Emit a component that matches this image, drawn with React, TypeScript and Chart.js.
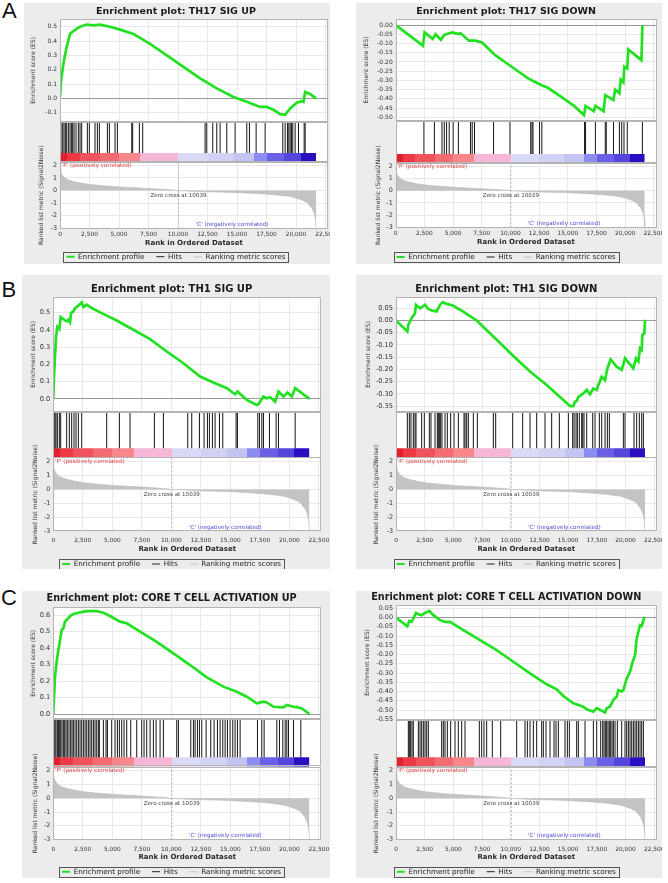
import React, { useEffect, useRef } from 'react';
import { Chart, registerables } from 'chart.js';

Chart.register(...registerables);

const FONT = '"DejaVu Sans", "Liberation Sans", sans-serif';
const GREEN = '#22e022';

// ---------- shared ranked list ----------
const N_GENES = 21700;
const ZERO_CROSS = 10039;
const X_MAX = 22700;
const X_TICKS = [0, 2500, 5000, 7500, 10000, 12500, 15000, 17500, 20000, 22500];

const METRIC_RANK = [0, 60, 145, 286, 428, 710, 1134, 1841, 2547, 3960, 5373, 6786, 8199, 9612, 10039, 11025, 12438, 13851, 15264, 16677, 18090, 19503, 20351, 20916, 21340, 21538, 21650, 21700];
const METRIC_VALUE = [1.8, 1.5, 1.3, 1.1, 0.98, 0.85, 0.72, 0.58, 0.48, 0.36, 0.27, 0.2, 0.13, 0.05, 0, -0.05, -0.1, -0.13, -0.17, -0.24, -0.33, -0.48, -0.7, -0.93, -1.4, -1.8, -2.3, -2.95];
const METRIC_TICKS = [-3, -2, -1, 0, 1, 2];
const METRIC_MIN = -3.03;
const METRIC_MAX = 2.3;

const CB_EDGES = [0, 600, 1700, 3400, 5000, 6800, 10039, 12500, 14700, 16400, 17500, 19000, 20400, 21700];
const CB_COLORS = ['#e41f2d', '#ec3944', '#f0535b', '#f46c72', '#f7878b', '#f6b6d6', '#dadaf7', '#d2d2f5', '#c4c4f3', '#8c8cf0', '#6b5fe7', '#5545dc', '#2a0fc2'];

const P_LABEL = "'P' (positively correlated)";
const C_LABEL = "'C' (negatively correlated)";
const P_LABEL_RANK = 150;
const C_LABEL_RANK = 11500;
const C_LABEL_VALUE = -2.72;

// ---------- A: TH17 SIG UP ----------
const TH17_UP_RANK = [0, 86, 283, 566, 849, 1131, 1696, 2262, 2827, 3392, 4240, 5088, 6218, 7631, 9044, 10457, 11870, 13283, 14696, 15826, 16957, 17522, 18087, 18652, 19076, 19500, 20065, 20489, 20631, 20772, 21196, 21700];
const TH17_UP_ES = [0.01, 0.12, 0.24, 0.36, 0.45, 0.47, 0.5, 0.515, 0.51, 0.515, 0.5, 0.48, 0.45, 0.38, 0.3, 0.22, 0.14, 0.07, 0.01, -0.024, -0.06, -0.06, -0.08, -0.11, -0.115, -0.07, -0.03, -0.02, -0.025, 0.045, 0.03, 0.0];
const TH17_UP_HITS = [86, 227, 340, 453, 566, 707, 849, 962, 1075, 1188, 1357, 1555, 1696, 1838, 2318, 2488, 2968, 3166, 3335, 4014, 4183, 4664, 4862, 6077, 6161, 6727, 7009, 12294, 12435, 12944, 13283, 13566, 14131, 14837, 15826, 16052, 16617, 17381, 18878, 19076, 19274, 19387, 19500, 19613, 19726, 19924, 20207, 20687, 20772];
const TH17_UP_TICKS = [-0.1, 0, 0.1, 0.2, 0.3, 0.4, 0.5];

// ---------- A: TH17 SIG DOWN ----------
const TH17_DN_RANK = [0, 2372, 2516, 3231, 3460, 3947, 4233, 4663, 4949, 5381, 5665, 6381, 6953, 7526, 8671, 10103, 11534, 12107, 12679, 13252, 14397, 15542, 16407, 16544, 17260, 17403, 18119, 18262, 18978, 19121, 19493, 19608, 19837, 19922, 20180, 20266, 21411, 21500];
const TH17_DN_ES = [0, -0.112, -0.04, -0.076, -0.05, -0.08, -0.054, -0.045, -0.04, -0.048, -0.045, -0.085, -0.085, -0.095, -0.163, -0.226, -0.289, -0.307, -0.325, -0.34, -0.388, -0.438, -0.487, -0.438, -0.466, -0.438, -0.466, -0.38, -0.406, -0.35, -0.37, -0.295, -0.31, -0.226, -0.235, -0.132, -0.19, 0.0];
const TH17_DN_HITS = [2458, 3374, 4033, 4233, 4434, 4663, 5006, 5464, 6524, 6667, 6867, 8528, 9959, 11763, 11878, 11963, 12536, 12736, 16458, 16544, 17403, 18262, 18348, 18978, 19493, 19694, 19894, 20180, 21497];
const TH17_DN_TICKS = [-0.5, -0.45, -0.4, -0.35, -0.3, -0.25, -0.2, -0.15, -0.1, -0.05, 0];

// ---------- B: TH1 SIG UP ----------
const TH1_UP_RANK = [0, 60, 145, 230, 343, 512, 625, 993, 1134, 1275, 1417, 1501, 1699, 1841, 2123, 2406, 2547, 2830, 3254, 3960, 4525, 5373, 6786, 8199, 9612, 11025, 12438, 13566, 14699, 15405, 15603, 16394, 17242, 17384, 17807, 18090, 18373, 18797, 19079, 19503, 19842, 20210, 20493, 21700];
const TH1_UP_ES = [0, 0.13, 0.246, 0.36, 0.417, 0.405, 0.475, 0.455, 0.45, 0.46, 0.444, 0.498, 0.508, 0.527, 0.541, 0.56, 0.533, 0.547, 0.527, 0.502, 0.483, 0.455, 0.401, 0.347, 0.275, 0.207, 0.13, 0.095, 0.062, 0.027, 0.043, -0.006, -0.035, -0.03, 0.014, 0.004, 0.01, -0.016, 0.043, 0.014, 0.037, 0.014, 0.062, 0];
const TH1_UP_HITS = [10, 30, 60, 145, 230, 343, 512, 625, 1134, 1360, 1558, 1756, 1925, 2123, 2406, 4525, 5599, 6503, 8566, 9329, 11392, 11732, 12382, 12777, 13060, 13230, 13484, 13710, 14077, 14360, 15490, 15603, 17327, 17468, 17666, 17807, 18316, 18881, 19079, 20493];
const TH1_UP_TICKS = [0, 0.1, 0.2, 0.3, 0.4, 0.5];

// ---------- B: TH1 SIG DOWN ----------
const TH1_DN_RANK = [0, 988, 1075, 1365, 1656, 1743, 2092, 2527, 2818, 3108, 3544, 3835, 4067, 4416, 4997, 5578, 6159, 7030, 8773, 10226, 11678, 13131, 14583, 15164, 15455, 15600, 15745, 15890, 16326, 16617, 16907, 17198, 17488, 17634, 17924, 18215, 18418, 18708, 19231, 19667, 19957, 20684, 20916, 21119, 21265, 21410, 21469, 21643, 21700];
const TH1_DN_ES = [0, -0.045, -0.018, 0.01, 0.03, 0.064, 0.05, 0.064, 0.047, 0.041, 0.037, 0.064, 0.074, 0.068, 0.06, 0.044, 0.027, 0.0, -0.079, -0.145, -0.209, -0.264, -0.325, -0.35, -0.35, -0.332, -0.33, -0.312, -0.298, -0.284, -0.302, -0.278, -0.284, -0.264, -0.23, -0.244, -0.196, -0.159, -0.189, -0.202, -0.155, -0.196, -0.155, -0.168, -0.113, -0.12, -0.059, -0.052, 0.003];
const TH1_DN_HITS = [988, 1162, 1307, 1511, 1656, 1743, 2237, 2469, 2905, 3050, 3399, 3602, 3689, 3776, 3893, 4009, 4270, 4474, 4764, 5055, 5432, 5926, 6013, 6159, 6304, 6740, 7088, 8483, 8686, 10167, 11039, 11678, 12259, 12985, 13566, 14234, 15019, 15396, 15513, 15687, 15803, 15977, 16181, 16268, 16384, 16617, 17140, 17343, 17720, 17924, 18215, 18418, 18592, 19812, 19957, 20742, 20974, 21206, 21410, 21555];
const TH1_DN_TICKS = [-0.35, -0.3, -0.25, -0.2, -0.15, -0.1, -0.05, 0, 0.05];

// ---------- C: CORE T CELL ACTIVATION UP ----------
const CORE_UP_RANK = [0, 60, 145, 286, 428, 569, 710, 851, 993, 1134, 1417, 1699, 2123, 2830, 3677, 4243, 4808, 5656, 6221, 7351, 8764, 10177, 11590, 13003, 14416, 15547, 16394, 17242, 17807, 18090, 18655, 19503, 19786, 20351, 20633, 21057, 21700];
const CORE_UP_ES = [0, 0.105, 0.226, 0.317, 0.388, 0.448, 0.509, 0.519, 0.56, 0.57, 0.594, 0.606, 0.614, 0.624, 0.624, 0.614, 0.594, 0.56, 0.55, 0.499, 0.438, 0.368, 0.297, 0.222, 0.166, 0.135, 0.105, 0.065, 0.075, 0.07, 0.044, 0.04, 0.055, 0.044, 0.042, 0.034, 0];
const CORE_UP_HITS = [60, 145, 230, 343, 428, 512, 625, 738, 851, 964, 1077, 1191, 1332, 1473, 1586, 1699, 1841, 1982, 2123, 2264, 2406, 2547, 2689, 2830, 2971, 3112, 3254, 3395, 3536, 3677, 3819, 3903, 4243, 4469, 4582, 4949, 5232, 5430, 5599, 5797, 5995, 6221, 6560, 7069, 7493, 7690, 7916, 8199, 8482, 8708, 9047, 9329, 10460, 10601, 11647, 11873, 12014, 12212, 12382, 12579, 12947, 13343, 13625, 13908, 14134, 14360, 14558, 14755, 14981, 15207, 15405, 15603, 15829, 17299, 17666, 17864, 18938, 19164, 19447, 19645, 19786, 19927, 20351, 20973];
const CORE_UP_TICKS = [0, 0.1, 0.2, 0.3, 0.4, 0.5, 0.6];

// ---------- C: CORE T CELL ACTIVATION DOWN ----------
const CORE_DN_RANK = [0, 988, 1162, 1365, 1743, 1946, 2237, 2527, 2905, 3254, 3835, 4270, 4706, 5868, 7321, 8773, 10226, 11678, 13131, 14002, 14583, 15455, 16326, 16617, 17198, 17488, 17924, 18215, 18360, 18650, 18941, 19231, 19376, 19667, 19812, 20103, 20393, 20625, 20829, 20974, 21265, 21410, 21650];
const CORE_DN_ES = [0, -0.047, -0.018, -0.023, 0.025, 0.018, 0.013, 0.025, 0.036, 0.013, -0.014, -0.023, -0.023, -0.068, -0.122, -0.176, -0.239, -0.302, -0.361, -0.388, -0.424, -0.464, -0.482, -0.496, -0.509, -0.49, -0.503, -0.514, -0.49, -0.482, -0.445, -0.428, -0.392, -0.4, -0.392, -0.329, -0.293, -0.239, -0.203, -0.113, -0.041, -0.045, 0.004];
const CORE_DN_HITS = [1075, 1162, 1278, 1394, 1511, 1946, 2092, 2237, 2382, 2527, 2673, 2818, 3980, 4125, 4270, 4474, 4764, 5142, 5432, 5723, 6013, 7262, 7466, 7669, 7901, 8395, 9122, 10516, 11242, 11446, 11678, 11969, 12259, 12695, 12840, 13072, 13421, 13770, 13944, 14147, 14728, 14932, 15106, 15745, 15890, 16471, 17198, 17488, 17837, 18011, 18127, 18243, 18360, 18476, 18592, 18708, 18824, 18941, 19086, 19289, 19667, 19957, 20103, 20248, 20393, 20539, 20684, 20829, 20974, 21119, 21265, 21410, 21555];
const CORE_DN_TICKS = [-0.55, -0.5, -0.45, -0.4, -0.35, -0.3, -0.25, -0.2, -0.15, -0.1, -0.05, 0, 0.05];

// ---------- layout (pixel geometry, style only) ----------
type Layout = {
  x: number; y: number; w: number; h: number;
  L: number; R: number; T: number; esB: number; cbT: number; hitsB: number; B: number;
  titleCY: number; xTickCY: number; xTitleCY: number; legendCY: number; esTitleX: number; metTitleX: number;
  titleSize: number; esTickSize: number;
};

type PanelDef = {
  key: string; title: string; rank: number[]; es: number[]; hits: number[];
  esTicks: number[]; esMin: number; esMax: number; esDec: number; layout: Layout;
};

const PANELS: PanelDef[] = [
  {
    key: 'th17up', title: 'Enrichment plot: TH17 SIG UP', rank: TH17_UP_RANK, es: TH17_UP_ES, hits: TH17_UP_HITS,
    esTicks: TH17_UP_TICKS, esMin: -0.163, esMax: 0.554, esDec: 1,
    layout: { x: 24, y: 3, w: 306, h: 261, L: 60, R: 327.9, T: 19, esB: 121.7, cbT: 153, hitsB: 161.7, B: 228.5, titleCY: 12, xTickCY: 234, xTitleCY: 243.3, legendCY: 256.7, esTitleX: 33.3, metTitleX: 41.7, titleSize: 9.5, esTickSize: 6 },
  },
  {
    key: 'th17dn', title: 'Enrichment plot: TH17 SIG DOWN', rank: TH17_DN_RANK, es: TH17_DN_ES, hits: TH17_DN_HITS,
    esTicks: TH17_DN_TICKS, esMin: -0.518, esMax: 0.0325, esDec: 2,
    layout: { x: 356, y: 3, w: 306, h: 261, L: 395.7, R: 656.2, T: 19, esB: 120.7, cbT: 154, hitsB: 162.7, B: 227.7, titleCY: 12, xTickCY: 232.7, xTitleCY: 242.3, legendCY: 257, esTitleX: 366, metTitleX: 378.3, titleSize: 9.5, esTickSize: 6 },
  },
  {
    key: 'th1up', title: 'Enrichment plot: TH1 SIG UP', rank: TH1_UP_RANK, es: TH1_UP_ES, hits: TH1_UP_HITS,
    esTicks: TH1_UP_TICKS, esMin: -0.074, esMax: 0.591, esDec: 1,
    layout: { x: 22, y: 275, w: 308, h: 294, L: 53.3, R: 321.2, T: 297, esB: 411.7, cbT: 448.3, hitsB: 457.3, B: 531.7, titleCY: 289, xTickCY: 539.3, xTitleCY: 549, legendCY: 564, esTitleX: 33.3, metTitleX: 35, titleSize: 10, esTickSize: 6.6 },
  },
  {
    key: 'th1dn', title: 'Enrichment plot: TH1 SIG DOWN', rank: TH1_DN_RANK, es: TH1_DN_ES, hits: TH1_DN_HITS,
    esTicks: TH1_DN_TICKS, esMin: -0.373, esMax: 0.096, esDec: 2,
    layout: { x: 356, y: 275, w: 306, h: 294, L: 396, R: 656.5, T: 297, esB: 411.7, cbT: 448.3, hitsB: 457.3, B: 531.7, titleCY: 289, xTickCY: 539.3, xTitleCY: 549, legendCY: 564, esTitleX: 368.3, metTitleX: 376.7, titleSize: 10, esTickSize: 6.6 },
  },
  {
    key: 'coreup', title: 'Enrichment plot: CORE T CELL ACTIVATION UP', rank: CORE_UP_RANK, es: CORE_UP_ES, hits: CORE_UP_HITS,
    esTicks: CORE_UP_TICKS, esMin: -0.032, esMax: 0.647, esDec: 1,
    layout: { x: 22, y: 591, w: 308, h: 287, L: 53.3, R: 321.2, T: 607.3, esB: 719.3, cbT: 757.3, hitsB: 766.7, B: 840, titleCY: 598, xTickCY: 848.3, xTitleCY: 856.7, legendCY: 871.7, esTitleX: 33.3, metTitleX: 35, titleSize: 9.7, esTickSize: 6.6 },
  },
  {
    key: 'coredn', title: 'Enrichment plot: CORE T CELL ACTIVATION DOWN', rank: CORE_DN_RANK, es: CORE_DN_ES, hits: CORE_DN_HITS,
    esTicks: CORE_DN_TICKS, esMin: -0.554, esMax: 0.068, esDec: 2,
    layout: { x: 356, y: 591, w: 306, h: 287, L: 396, R: 656.5, T: 605, esB: 720, cbT: 757.3, hitsB: 766.7, B: 840, titleCY: 597.3, xTickCY: 848.3, xTitleCY: 857.3, legendCY: 871.7, esTitleX: 367.3, metTitleX: 376.7, titleSize: 9.7, esTickSize: 6.4 },
  },
];

const X_TICK_FS = 5.9;
const X_TITLE_FS = 7;
const LEG_FS = 7.2;
const LEG_PAD = 12;
const Y_TITLE_FS = 6;
const MET_TICK_FS = 6.4;
const NOTE_FS = 5.6;

const fmtThousands = (v: number) => Math.round(v).toString().replace(/\B(?=(\d{3})+(?!\d))/g, ',');

const decorPlugin = {
  id: 'gseaDecor',
  beforeDraw(chart: any) {
    const { ctx, chartArea: a } = chart;
    ctx.save();
    ctx.fillStyle = '#ffffff';
    ctx.fillRect(a.left, a.top, a.right - a.left, a.bottom - a.top);
    ctx.restore();
  },
  beforeDatasetsDraw(chart: any) {
    const { ctx, chartArea: a, scales } = chart;
    const yh = scales.yHits;
    ctx.save();
    ctx.fillStyle = '#ffffff';
    ctx.fillRect(a.left, yh.top, a.right - a.left, yh.bottom - yh.top);
    ctx.restore();
  },
  afterDatasetsDraw(chart: any) {
    const { ctx, chartArea: a, scales } = chart;
    ctx.save();
    ctx.strokeStyle = '#b4b4b4';
    ctx.lineWidth = 1;
    for (const id of ['yES', 'yHits', 'yMetric']) {
      const s = scales[id];
      ctx.strokeRect(Math.round(a.left) + 0.5, Math.round(s.top) + 0.5, Math.round(a.right - a.left) - 1, Math.round(s.bottom - s.top) - 1);
    }
    const xs = scales.x;
    const ym = scales.yMetric;
    ctx.font = `${NOTE_FS}px ${FONT}`;
    ctx.textAlign = 'left';
    ctx.textBaseline = 'top';
    ctx.fillStyle = '#e23b3b';
    ctx.fillText(P_LABEL, xs.getPixelForValue(P_LABEL_RANK), ym.top + 1.5);
    ctx.textAlign = 'center';
    ctx.fillStyle = '#444444';
    ctx.fillText(`Zero cross at ${ZERO_CROSS}`, xs.getPixelForValue(ZERO_CROSS), ym.getPixelForValue(0) + 2.5);
    ctx.textAlign = 'left';
    ctx.textBaseline = 'middle';
    ctx.fillStyle = '#4848d8';
    ctx.fillText(C_LABEL, xs.getPixelForValue(C_LABEL_RANK), ym.getPixelForValue(C_LABEL_VALUE));
    ctx.restore();
  },
  afterDraw(chart: any) {
    const lg = chart.legend;
    if (!lg || !lg.legendHitBoxes || !lg.legendHitBoxes.length) return;
    let l = Infinity, r = -Infinity, t = Infinity, b = -Infinity;
    for (const h of lg.legendHitBoxes) {
      l = Math.min(l, h.left); r = Math.max(r, h.left + h.width);
      t = Math.min(t, h.top); b = Math.max(b, h.top + h.height);
    }
    const ctx = chart.ctx;
    ctx.save();
    ctx.strokeStyle = '#555555';
    ctx.lineWidth = 1;
    ctx.strokeRect(Math.round(l - 3) + 0.5, Math.round(t - 1.5) + 0.5, Math.round(r - l + 6), Math.round(b - t + 3));
    ctx.restore();
  },
};

function makeConfig(p: PanelDef): any {
  const lay = p.layout;
  const wLeft = lay.L - lay.x;
  const padRight = lay.x + lay.w - lay.R;
  const tLH = p.layout.titleSize * 1.2;
  const titlePadTop = lay.titleCY - lay.y - tLH / 2;
  const titlePadBottom = lay.T - lay.titleCY - tLH / 2;
  const axisBottom = lay.legendCY - LEG_PAD - LEG_FS / 2;
  const xTitleLH = X_TITLE_FS * 1.2;
  const xTitlePadBottom = axisBottom - lay.xTitleCY - xTitleLH / 2;
  const xAxisH = axisBottom - lay.B;
  const legendH = lay.y + lay.h - axisBottom;
  const xTickPad = lay.xTickCY - lay.B - 0.45 * X_TICK_FS;
  const hES = lay.esB - lay.T;
  const hHits = lay.hitsB - lay.esB;
  const hMetric = lay.B - lay.hitsB;
  const cbFrac = (lay.hitsB - lay.cbT) / hHits;
  const yTitleLH = Y_TITLE_FS * 1.2;

  const yFit = (s: any) => { s.width = wLeft; s.paddingTop = 0; s.paddingBottom = 0; };

  const esData = p.rank.map((r, i) => ({ x: r, y: p.es[i] }));
  const hitData: any[] = [];
  p.hits.forEach((h) => { hitData.push({ x: h, y: cbFrac }, { x: h, y: 1 }, { x: h, y: null }); });
  const metricData = METRIC_RANK.map((r, i) => ({ x: r, y: METRIC_VALUE[i] }));

  const cbBackground = (c: any) => {
    const chart = c.chart;
    const xs = chart.scales && chart.scales.x;
    if (!chart.chartArea || !xs) return CB_COLORS[0];
    const x0 = xs.getPixelForValue(0);
    const x1 = xs.getPixelForValue(N_GENES);
    const g = chart.ctx.createLinearGradient(x0, 0, x1, 0);
    for (let i = 0; i < CB_COLORS.length; i++) {
      g.addColorStop(CB_EDGES[i] / N_GENES, CB_COLORS[i]);
      g.addColorStop(CB_EDGES[i + 1] / N_GENES, CB_COLORS[i]);
    }
    return g;
  };

  return {
    type: 'line',
    data: {
      datasets: [
        { label: 'Enrichment profile', data: esData, yAxisID: 'yES', borderColor: GREEN, backgroundColor: GREEN, borderWidth: 2.7, pointRadius: 0, fill: false, tension: 0 },
        { label: 'Hits', data: hitData, yAxisID: 'yHits', borderColor: '#151515', borderWidth: 1, pointRadius: 0, fill: false, spanGaps: false },
        { label: 'colorbar', data: [{ x: 0, y: cbFrac }, { x: N_GENES, y: cbFrac }], yAxisID: 'yHits', borderWidth: 0, borderColor: 'rgba(0,0,0,0)', pointRadius: 0, fill: 'origin', backgroundColor: cbBackground },
        { label: 'zerocross', data: [{ x: ZERO_CROSS, y: METRIC_MIN }, { x: ZERO_CROSS, y: METRIC_MAX }], yAxisID: 'yMetric', borderColor: '#a8a8a8', borderWidth: 0.8, borderDash: [2, 2], pointRadius: 0, fill: false },
        { label: 'Ranking metric scores', data: metricData, yAxisID: 'yMetric', borderColor: '#b8b8b8', borderWidth: 0.6, backgroundColor: '#c4c4c4', pointRadius: 0, fill: 'origin', tension: 0 },
      ],
    },
    options: {
      responsive: false,
      animation: false,
      events: [],
      layout: { padding: { left: 0, right: padRight, top: 0, bottom: 0 }, autoPadding: false },
      scales: {
        x: {
          type: 'linear', min: 0, max: X_MAX,
          afterBuildTicks: (s: any) => { s.ticks = X_TICKS.map((v) => ({ value: v })); },
          ticks: { callback: (v: any) => fmtThousands(Number(v)), font: { family: FONT, size: X_TICK_FS }, color: '#333', padding: xTickPad, maxRotation: 0, minRotation: 0, autoSkip: false },
          grid: { color: '#e8e8e8', drawTicks: false, lineWidth: 1 },
          border: { display: false },
          title: { display: true, text: 'Rank in Ordered Dataset', font: { family: FONT, size: X_TITLE_FS, weight: 'bold' }, color: '#2a2a2a', padding: { top: 0, bottom: xTitlePadBottom } },
          afterFit: (s: any) => { s.height = xAxisH; s.paddingLeft = 0; s.paddingRight = 0; },
        },
        yMetric: {
          type: 'linear', position: 'left', stack: 'gsea', stackWeight: hMetric, min: METRIC_MIN, max: METRIC_MAX,
          afterBuildTicks: (s: any) => { s.ticks = METRIC_TICKS.map((v) => ({ value: v })); },
          ticks: { font: { family: FONT, size: MET_TICK_FS }, color: '#333', padding: 3, autoSkip: false, callback: (v: any) => String(v) },
          grid: { color: '#e8e8e8', drawTicks: false },
          border: { display: false },
          title: { display: true, text: 'Ranked list metric (Signal2Noise)', font: { family: FONT, size: Y_TITLE_FS }, color: '#333', padding: { top: lay.metTitleX - lay.x - yTitleLH / 2, bottom: 0 } },
          afterFit: yFit,
        },
        yHits: {
          type: 'linear', position: 'left', stack: 'gsea', stackWeight: hHits, min: 0, max: 1,
          ticks: { display: false },
          grid: { display: false, drawTicks: false },
          border: { display: false },
          afterFit: yFit,
        },
        yES: {
          type: 'linear', position: 'left', stack: 'gsea', stackWeight: hES, min: p.esMin, max: p.esMax,
          afterBuildTicks: (s: any) => { s.ticks = p.esTicks.map((v) => ({ value: v })); },
          ticks: { font: { family: FONT, size: lay.esTickSize }, color: '#333', padding: 3, autoSkip: false, callback: (v: any) => Number(v).toFixed(p.esDec) },
          grid: { color: (c: any) => (c.tick && Math.abs(c.tick.value) < 1e-9 ? '#9a9a9a' : '#e8e8e8'), drawTicks: false },
          border: { display: false },
          title: { display: true, text: 'Enrichment score (ES)', font: { family: FONT, size: Y_TITLE_FS }, color: '#333', padding: { top: lay.esTitleX - lay.x - yTitleLH / 2, bottom: 0 } },
          afterFit: yFit,
        },
      },
      plugins: {
        tooltip: { enabled: false },
        title: {
          display: true, text: p.title, color: '#1a1a1a',
          font: { family: FONT, size: lay.titleSize, weight: 'bold' },
          padding: { top: titlePadTop, bottom: titlePadBottom },
        },
        legend: {
          display: true, position: 'bottom', align: 'center', maxHeight: legendH,
          onClick: () => {},
          labels: {
            usePointStyle: true, pointStyleWidth: 8, padding: LEG_PAD, color: '#222',
            font: { family: FONT, size: LEG_FS },
            generateLabels: () => [
              { text: 'Enrichment profile', strokeStyle: GREEN, fillStyle: GREEN, lineWidth: 2, pointStyle: 'line', hidden: false, datasetIndex: 0, fontColor: '#222' },
              { text: 'Hits', strokeStyle: '#222', fillStyle: '#222', lineWidth: 1, pointStyle: 'line', hidden: false, datasetIndex: 1, fontColor: '#222' },
              { text: 'Ranking metric scores', strokeStyle: '#cfcfcf', fillStyle: '#cfcfcf', lineWidth: 1.5, pointStyle: 'line', hidden: false, datasetIndex: 4, fontColor: '#222' },
            ],
          },
        },
      },
    },
    plugins: [decorPlugin],
  };
}

function GseaPanel({ def }: { def: PanelDef }) {
  const ref = useRef<HTMLCanvasElement | null>(null);
  useEffect(() => {
    if (!ref.current) return;
    const chart = new Chart(ref.current, makeConfig(def));
    return () => chart.destroy();
  }, [def]);
  const l = def.layout;
  return (
    <canvas
      ref={ref}
      width={l.w}
      height={l.h}
      style={{ position: 'absolute', left: l.x, top: l.y, width: l.w, height: l.h, background: '#ececec' }}
    />
  );
}

const PANEL_LETTERS = [
  { text: 'A', left: 2, top: 0 },
  { text: 'B', left: 1.5, top: 279 },
  { text: 'C', left: 1, top: 587 },
];

export default function App() {
  return (
    <div style={{ position: 'absolute', left: 0, top: 0, width: 668, height: 883, background: '#ffffff', overflow: 'hidden' }}>
      {PANELS.map((p) => <GseaPanel key={p.key} def={p} />)}
      {PANEL_LETTERS.map((t) => (
        <div key={t.text} style={{ position: 'absolute', left: t.left, top: t.top, fontFamily: '"Liberation Sans", Arial, sans-serif', fontSize: 22, lineHeight: '22px', color: '#111' }}>{t.text}</div>
      ))}
    </div>
  );
}
